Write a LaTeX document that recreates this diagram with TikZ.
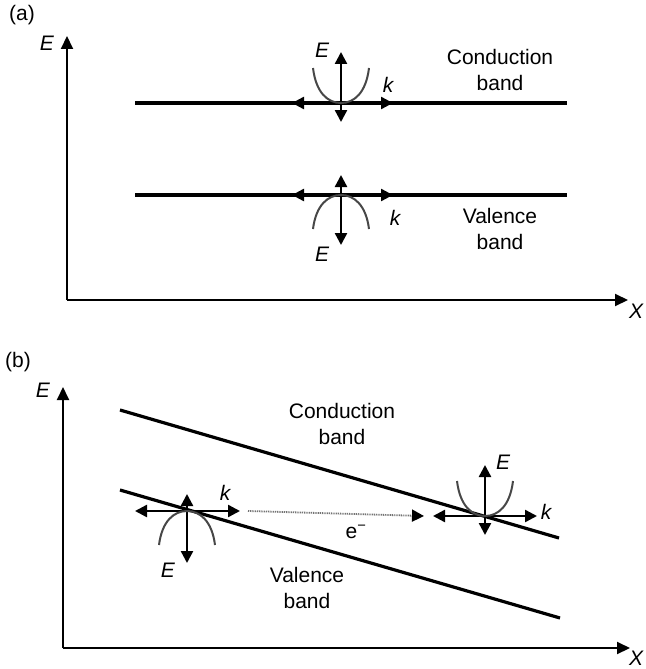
\documentclass[tikz,border=0pt]{standalone}
\usepackage{fontspec}
\setmainfont{Liberation Sans}
\usetikzlibrary{arrows.meta}
\begin{document}
\begin{tikzpicture}[x=1pt,y=-1pt,
  lbl/.style={inner sep=0pt,font=\fontsize{21}{26}\selectfont,align=center},
  ilbl/.style={inner sep=0pt,font=\fontsize{21}{26}\selectfont\itshape},
  axis/.style={line width=2pt,-{Triangle[length=13pt,width=12pt]}},
  band/.style={line width=3.2pt},
  kax/.style={line width=2.4pt,{Triangle[length=12pt,width=12pt]}-{Triangle[length=12pt,width=12pt]}},
  curve/.style={line width=2pt,black!72},
  ucurve/.pic={\draw[curve] (-28,-35) .. controls (-25,-10) and (-13,0) .. (0,0) .. controls (13,0) and (25,-10) .. (28,-35);},
  ncurve/.pic={\draw[curve] (-28,34) .. controls (-25,10) and (-13,0) .. (0,0) .. controls (13,0) and (25,10) .. (28,34);}]
\useasboundingbox (0,0) rectangle (645,669);
% ---------- panel (a) ----------
\node[lbl] (la) at (22,15) {(a)};
\coordinate (aO) at (67,300);
\coordinate (aEtip) at (67,36);
\coordinate (aXtip) at (628,300);
\draw[axis] (aO) -- (aEtip);
\draw[axis] (aO) -- (aXtip);
\node[ilbl] (aE) at (47,43) {E};
\node[ilbl] (aX) at (636,311) {X};
% bands
\coordinate (cbL) at (135,103); \coordinate (cbR) at (567,103);
\coordinate (vbL) at (135,195); \coordinate (vbR) at (567,195);
\draw[band] (cbL) -- (cbR);
\draw[band] (vbL) -- (vbR);
% conduction mini axes
\coordinate (c1) at (341,103);
\draw[kax] (292,103) -- (393,103);
\draw[kax] (341,52) -- (341,122);
\pic at (c1) {ucurve};
\node[ilbl] (c1E) at (322,50) {E};
\node[ilbl] (c1k) at (388,85) {k};
\node[lbl] (cbt) at (500,70) {Conduction\\band};
% valence mini axes
\coordinate (v1) at (341,195);
\draw[kax] (292,195) -- (393,195);
\draw[kax] (341,175) -- (341,245);
\pic at (v1) {ncurve};
\node[ilbl] (v1E) at (322,254) {E};
\node[ilbl] (v1k) at (395,218) {k};
\node[lbl] (vbt) at (500,229) {Valence\\band};
% ---------- panel (b) ----------
\node[lbl] (lb) at (18,362) {(b)};
\coordinate (bO) at (63,648);
\coordinate (bEtip) at (63,387);
\coordinate (bXtip) at (630,648);
\draw[axis] (bO) -- (bEtip);
\draw[axis] (bO) -- (bXtip);
\node[ilbl] (bE) at (43,390) {E};
\node[ilbl] (bX) at (636,658) {X};
% bands
\coordinate (cb2L) at (120,410); \coordinate (cb2R) at (559,538);
\coordinate (vb2L) at (120,490); \coordinate (vb2R) at (560,618);
\draw[band] (cb2L) -- (cb2R);
\draw[band] (vb2L) -- (vb2R);
\node[lbl] (cbt2) at (342,424) {Conduction\\band};
\node[lbl] (vbt2) at (307,588) {Valence\\band};
% left mini axes (valence)
\coordinate (v2) at (187,511);
\draw[kax] (135,511) -- (240,511);
\draw[kax] (187,494) -- (187,563);
\pic at (v2) {ncurve};
\node[ilbl] (v2E) at (168,570) {E};
\node[ilbl] (v2k) at (225,493) {k};
% right mini axes (conduction)
\coordinate (c2) at (485,516);
\draw[kax] (433,516) -- (537,516);
\draw[kax] (485,465) -- (485,535);
\pic at (c2) {ucurve};
\node[ilbl] (c2E) at (503,462) {E};
\node[ilbl] (c2k) at (546,512) {k};
% electron transfer
\coordinate (eS) at (248,511);
\coordinate (eT) at (424,516);
\draw[line width=1.8pt,black!55,dash pattern=on 1pt off 0.8pt,-{Triangle[length=12pt,width=12pt,color=black]}] (eS) -- (eT);
\node[lbl] (em) at (356,532) {e\textsuperscript{−}};
\end{tikzpicture}
\end{document}
